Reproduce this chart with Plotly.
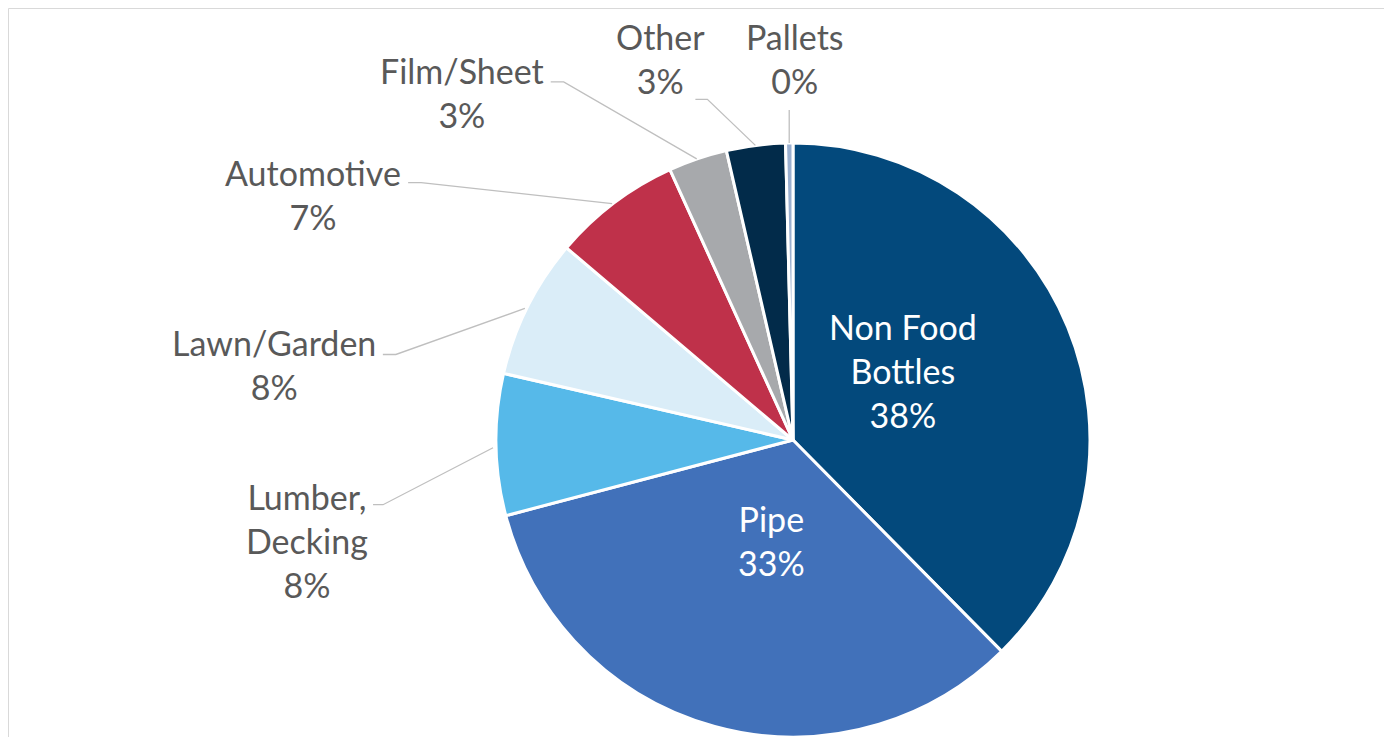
import math
import plotly.graph_objects as go

# share of recycled HDPE by end use
categories = ["Non Food Bottles", "Pipe", "Lumber, Decking", "Lawn/Garden",
              "Automotive", "Film/Sheet", "Other", "Pallets"]
values = [37.6, 33.3, 7.7, 7.6, 7.0, 3.2, 3.2, 0.4]
label_lines = ["Non Food<br>Bottles", "Pipe", "Lumber,<br>Decking", "Lawn/Garden",
               "Automotive", "Film/Sheet", "Other", "Pallets"]

colors = ["#03497C", "#4171BA", "#56B9E9", "#DAEDF8",
          "#BF314A", "#A7A9AC", "#022B4A", "#9BB0D0"]

# the page body adds an 8px margin, so work in page pixels and subtract it
OFF = 8
W, H = 1392 - 2 * OFF, 745 - 2 * OFF
CX, CY, R = 793, 443, 300
GRAY = "#595959"
LINE = "#BFBFBF"
FONT = "Lato, 'Open Sans', sans-serif"

# label offset from slice mid-edge (px), x anchor, text colour, leader offsets
label_style = [
    ((-168, 41), "center", "white", None),
    ((58, -192), "center", "white", None),
    ((-123, 93), "right", GRAY, [(-110, 57), (-120, 57)]),
    ((-147, 56), "right", GRAY, [(-129, 46), (-142, 46)]),
    ((-209, -9), "right", GRAY, [(-191, -21), (-204, -21)]),
    ((-151, -66), "right", GRAY, [(-133, -77), (-146, -77)]),
    ((-95, -87), "center", GRAY, [(-48, -46), (-60, -46)]),
    ((6, -85), "center", GRAY, [(0, -33)]),
]


def px(x, y):
    return (x - OFF) / W, 1 - (y - OFF) / H


total = sum(values)
x0, y1 = px(CX - R, CY - R)
x1, y0 = px(CX + R, CY + R)
fig = go.Figure(go.Pie(
    labels=categories,
    values=values,
    sort=False,
    direction="clockwise",
    rotation=0,
    marker=dict(colors=colors, line=dict(color="white", width=3)),
    textinfo="none",
    hoverinfo="label+percent",
    showlegend=False,
    domain=dict(x=[x0, x1], y=[max(y0, 0), y1]),
))

annotations = []
shapes = []
cum = 0
for name, v, txt, style in zip(categories, values, label_lines, label_style):
    mid = (cum + v / 2) / total * 2 * math.pi
    cum += v
    ax = CX + R * math.sin(mid)
    ay = CY - R * math.cos(mid)
    (dx, dy), xanchor, col, leader = style
    pct = round(v / total * 100)
    lx, ly = px(ax, ay)
    annotations.append(dict(
        x=lx, y=ly, xref="paper", yref="paper",
        xshift=dx, yshift=-dy, showarrow=False,
        text=f"{txt}<br>{pct:.0f}%", align="center",
        font=dict(family=FONT, size=34, color=col),
        xanchor=xanchor, yanchor="middle",
    ))
    if leader:
        pts = [(ax, ay)] + [(ax + ox, ay + oy) for ox, oy in leader]
        path = "M " + " L ".join("{:.5f},{:.5f}".format(*px(x, y)) for x, y in pts)
        shapes.append(dict(type="path", path=path, xref="paper", yref="paper",
                           line=dict(color=LINE, width=1.3)))

# chart area border
bx0, by1 = px(OFF + 0.5, OFF + 0.5)
bx1, by0 = px(1386, 743)
shapes.append(dict(type="rect", xref="paper", yref="paper",
                   x0=bx0, x1=bx1, y0=by0, y1=by1,
                   line=dict(color="#D9D9D9", width=1)))

fig.update_layout(
    width=W, height=H,
    margin=dict(l=0, r=0, t=0, b=0),
    paper_bgcolor="white",
    plot_bgcolor="white",
    annotations=annotations,
    shapes=shapes,
)

fig.write_html("out.html")
